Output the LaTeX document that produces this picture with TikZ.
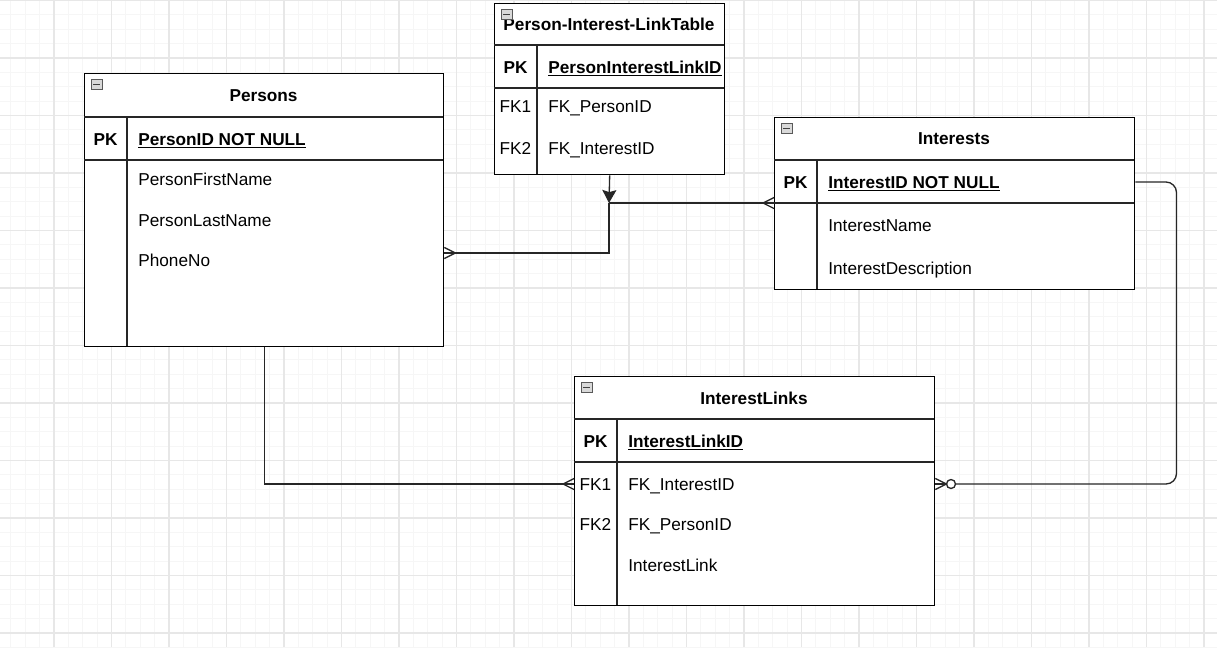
\documentclass[tikz,border=0pt]{standalone}
\usepackage{fontspec}
\setmainfont{Liberation Sans}
\usetikzlibrary{arrows.meta}

\begin{document}
\begin{tikzpicture}[x=0.02cm,y=-0.02cm,
  minor/.style={draw=gray!7,line width=0.6pt},
  major/.style={draw=gray!19,line width=0.6pt},
  tbl/.style={draw=black,line width=0.8pt,fill=white,anchor=north west,inner sep=0pt},
  rule/.style={draw=black!85,line width=0.8pt},
  conn/.style={draw=black!85,line width=0.75pt},
  head/.style={font=\fontsize{9.8}{11}\selectfont\bfseries,inner sep=0pt},
  key/.style={font=\fontsize{9.8}{11}\selectfont\bfseries,text height=7pt,text depth=0pt,inner sep=0pt},
  fk/.style={font=\fontsize{9.8}{11}\selectfont,text height=7pt,text depth=0pt,inner sep=0pt},
  fld/.style={font=\fontsize{9.8}{11}\selectfont,anchor=west,text height=7pt,text depth=0pt,inner sep=0pt},
  pkfld/.style={fld,font=\fontsize{9.8}{11}\selectfont\bfseries},
  mini/.style={draw=gray!70!black,fill=gray!30,minimum width=0.22cm,minimum height=0.19cm,inner sep=0pt,
    path picture={\draw[line width=0.9pt,black!75] ([xshift=-0.07cm]path picture bounding box.center) -- ([xshift=0.07cm]path picture bounding box.center);}}]
\useasboundingbox (0,0) rectangle (1217,647);
\fill[white] (0,0) rectangle (1217,647);
\foreach \i in {0,...,85} \draw[minor] (-3.5+\i*14.375,0) -- ++(0,647);
\foreach \j in {0,...,45} \draw[minor] (0,0.5+\j*14.375) -- ++(1217,0);
\foreach \i in {0,...,21} \draw[major] (-3.5+\i*57.5,0) -- ++(0,647);
\foreach \j in {0,...,11} \draw[major] (0,0.5+\j*57.5) -- ++(1217,0);

\node[tbl,minimum width=7.18cm,minimum height=5.46cm] (persons) at (84,73) {};
\draw[rule] (84,117) -- (443,117) (84,160) -- (443,160) (127,117) -- (127,346);
\node[mini] (pmini) at (96.5,84.5) {};
\node[head] (phead) at (263.5,96) {Persons};
\node[key] (ppk) at (105.5,139) {PK};
\node[pkfld] (pid) at (138,139) {\underline{PersonID NOT NULL}};
\node[fld] (pfirst) at (138,179) {PersonFirstName};
\node[fld] (plast) at (138,220) {PersonLastName};
\node[fld] (pphone) at (138,260) {PhoneNo};

\node[tbl,minimum width=4.6cm,minimum height=3.42cm] (plink) at (494,3) {};
\draw[rule] (494,45) -- (724,45) (494,88) -- (724,88) (537,45) -- (537,174);
\node[head] (lhead) at (609,24) {Person-Interest-LinkTable};
\node[mini] (lmini) at (506.5,14.5) {};
\node[key] (lpk) at (515.5,67) {PK};
\node[pkfld] (lid) at (548,67) {\underline{PersonInterestLinkID}};
\node[fk] (lfk1) at (515.5,106) {FK1};
\node[fld] (lperson) at (548,106) {FK\_PersonID};
\node[fk] (lfk2) at (515.5,148) {FK2};
\node[fld] (linterest) at (548,148) {FK\_InterestID};

\node[tbl,minimum width=7.2cm,minimum height=3.44cm] (interests) at (774,117) {};
\draw[rule] (774,160) -- (1134,160) (774,203) -- (1134,203) (817,160) -- (817,289);
\node[mini] (imini) at (786.5,128.5) {};
\node[head] (ihead) at (954,139) {Interests};
\node[key] (ipk) at (795.5,182) {PK};
\node[pkfld] (iid) at (828,182) {\underline{InterestID NOT NULL}};
\node[fld] (iname) at (828,225) {InterestName};
\node[fld] (idesc) at (828,268) {InterestDescription};

\node[tbl,minimum width=7.2cm,minimum height=4.58cm] (ilinks) at (574,376) {};
\draw[rule] (574,419) -- (934,419) (574,462) -- (934,462) (617,419) -- (617,605);
\node[mini] (kmini) at (586.5,387.5) {};
\node[head] (khead) at (754,398) {InterestLinks};
\node[key] (kpk) at (595.5,441) {PK};
\node[pkfld] (kid) at (628,441) {\underline{InterestLinkID}};
\node[fk] (kfk1) at (595.5,484) {FK1};
\node[fld] (kinterest) at (628,484) {FK\_InterestID};
\node[fk] (kfk2) at (595.5,524) {FK2};
\node[fld] (kperson) at (628,524) {FK\_PersonID};
\node[fld] (klink) at (628,565) {InterestLink};

\coordinate (junc) at (609,203);
\coordinate (bend) at (609,253);
\coordinate (rt) at (1176.5,182);
\coordinate (rb) at (1176.5,484);
\draw[conn,-{Stealth[length=7.4pt,width=8pt,inset=1.2pt]}] (plink.south) -- (junc);
\draw[conn] (junc) -- (interests.west |- junc);
\draw[conn] (interests.west |- junc) ++(0,-5.5) -- ++(-11,5.5) -- ++(11,5.5);
\draw[conn] (junc) -- (bend) -- (persons.east |- bend);
\draw[conn] (persons.east |- bend) ++(0,-5.5) -- ++(11,5.5) -- ++(-11,5.5);
\draw[conn] (persons.south) |- (ilinks.west |- kfk1);
\draw[conn] (ilinks.west |- kfk1) ++(0,-5.5) -- ++(-11,5.5) -- ++(11,5.5);
\draw[conn,rounded corners=6pt] (interests.east |- ipk) -- (rt) -- (rb) -- (955.5,484);
\draw[conn] (951,484) circle (4.5);
\draw[conn] (ilinks.east |- kfk1) -- (946.5,484);
\draw[conn] (ilinks.east |- kfk1) ++(0,-5.5) -- ++(11,5.5) -- ++(-11,5.5);
\end{tikzpicture}
\end{document}
